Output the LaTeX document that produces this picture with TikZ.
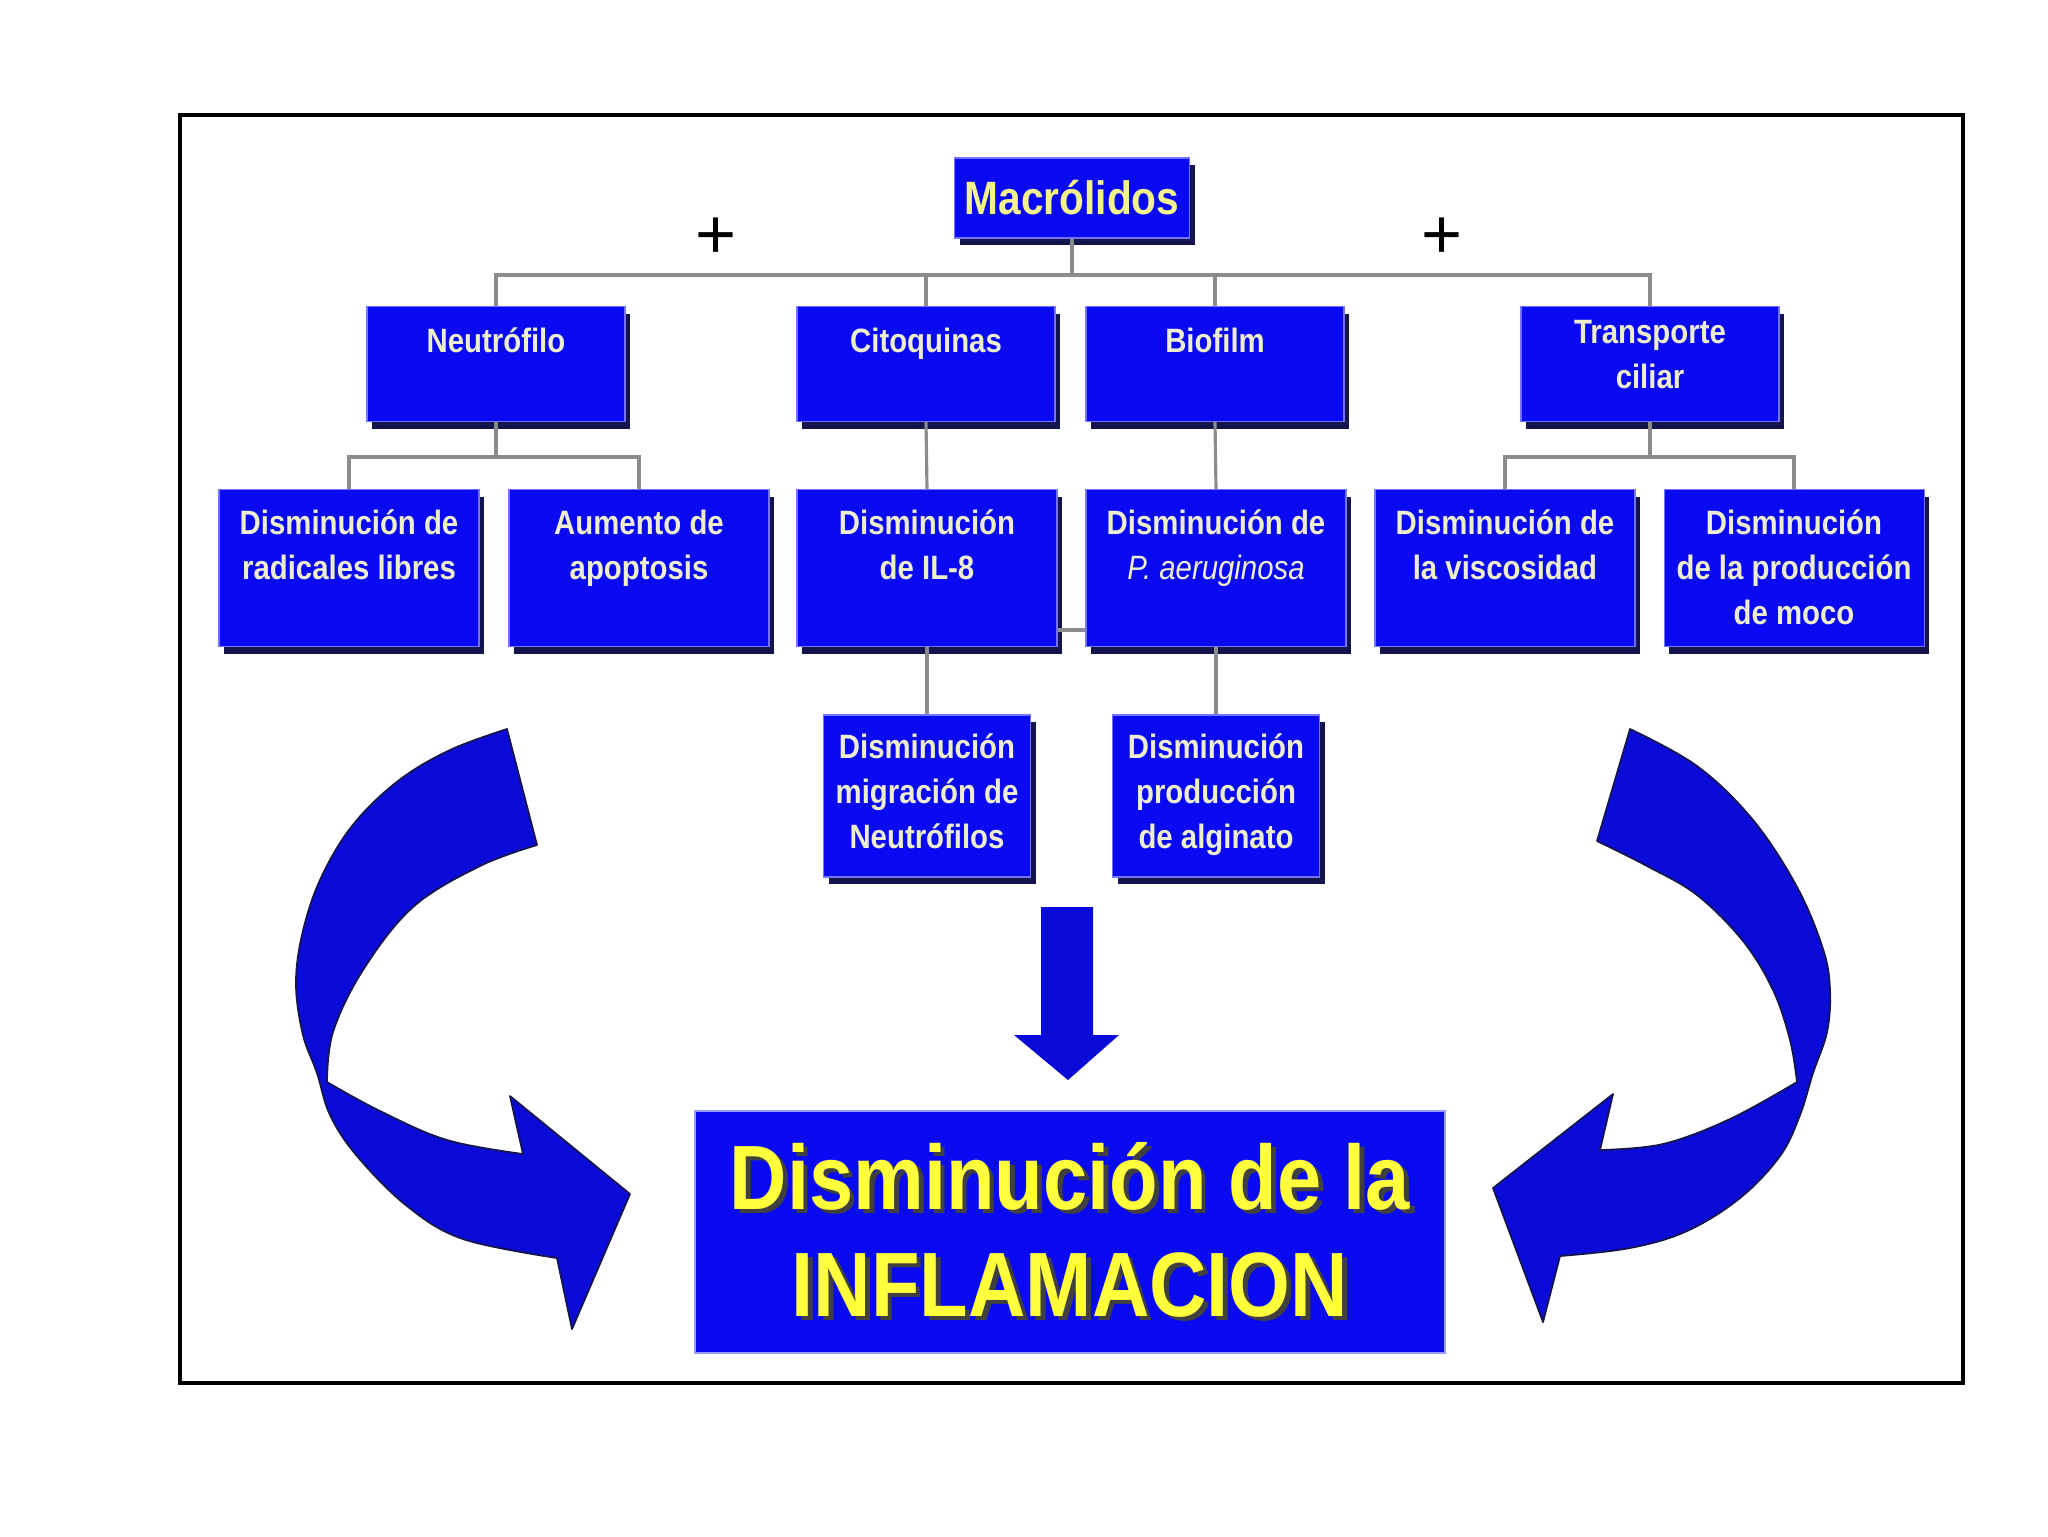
\documentclass[tikz,border=0pt]{standalone}
\usepackage{fontspec}
\setmainfont{Liberation Sans}
\newfontfamily\narrowSans[FakeStretch=0.87]{Liberation Sans}
\usepackage{xcolor}
\definecolor{boxBlue}{HTML}{0A0AF2}
\definecolor{arrowBlue}{HTML}{0B0BD9}
\definecolor{shadowNavy}{HTML}{15154D}
\definecolor{boxText}{HTML}{EDEDCF}
\definecolor{titleYellow}{HTML}{F2F28C}
\definecolor{bigYellow}{HTML}{FFFF3C}
\usepackage{tikz}
\usetikzlibrary{positioning,shadows}

% yellow text with a dark offset copy behind it
\newcommand\dropText[1]{\leavevmode\rlap{\kern1.3pt\raisebox{-1.3pt}{\textcolor{black!75}{#1}}}#1}

\tikzset{
  box/.style={fill=boxBlue, draw=blue!55!white, line width=0.3pt, inner sep=0pt,
    drop shadow={shadow xshift=0.5mm, shadow yshift=-0.7mm, fill=shadowNavy, opacity=1}},
  topBox/.style={box, minimum width=25.8mm, minimum height=11.5mm},
  midBox/.style={box, minimum width=26mm, minimum height=15.7mm},
  lowBox/.style={box, minimum width=20.7mm, minimum height=16.2mm},
  boxLabel/.style={text=boxText, align=center, inner sep=0pt,
    font=\narrowSans\bfseries\fontsize{9.6pt}{12.8pt}\selectfont, execute at begin node=\strut},
  conn/.style={black!45, line width=0.9pt},
  bigArrow/.style={fill=arrowBlue, draw=shadowNavy, line width=0.5pt, line join=round},
}

\begin{document}
\begin{tikzpicture}[x=0.1mm, y=-0.1mm]
  \useasboundingbox (0,0) rectangle (2048,1536);
  \draw[line width=1pt] (180,115) rectangle (1963,1383);   % frame

  % ---- top: Macrolidos and its four branches ----
  \node[box, minimum width=23.5mm, minimum height=8mm, text=titleYellow,
        font=\narrowSans\bfseries\fontsize{13.3pt}{15pt}\selectfont] (mac) at (1072,198) {Macrólidos};
  \node (plusL) at (716,238) {\fontsize{20pt}{20pt}\selectfont +};
  \node (plusR) at (1442,238) {\fontsize{20pt}{20pt}\selectfont +};

  \node[topBox] (neu) at (496,364) {};
  \node[topBox] (cit) at (926,364) {};
  \node[topBox] (bio) at (1215,364) {};
  \node[topBox] (tra) at (1650,364) {};
  \node[boxLabel, below=1.4mm of neu.north] {Neutrófilo};
  \node[boxLabel, below=1.4mm of cit.north] {Citoquinas};
  \node[boxLabel, below=1.4mm of bio.north] {Biofilm};
  \node[boxLabel, below=1.4mm of tra.north] {Transporte\\ciliar};

  \coordinate (busTop) at (1072,275);
  \draw[conn] (mac.south) -- (busTop);
  \foreach \n in {neu,cit,bio,tra}
    \draw[conn] (busTop) -| (\n.north);

  % ---- second row ----
  \node[midBox] (rad) at (349,568) {};
  \node[midBox] (apo) at (639,568) {};
  \node[midBox] (il8) at (927,568) {};
  \node[midBox] (pae) at (1216,568) {};
  \node[midBox] (vis) at (1505,568) {};
  \node[midBox] (moc) at (1794,568) {};
  \node[boxLabel, below=2mm of rad.north] {Disminución de\\radicales libres};
  \node[boxLabel, below=2mm of apo.north] {Aumento de\\apoptosis};
  \node[boxLabel, below=2mm of il8.north] {Disminución\\de IL-8};
  \node[boxLabel, below=2mm of pae.north] {Disminución de\\{\mdseries\itshape P. aeruginosa}};
  \node[boxLabel, below=2mm of vis.north] {Disminución de\\la viscosidad};
  \node[boxLabel, below=2mm of moc.north] {Disminución\\de la producción\\de moco};

  \draw[conn] (neu.south) -- ++(0,35) -| (rad.north);
  \draw[conn] (neu.south) -- ++(0,35) -| (apo.north);
  \draw[conn] (tra.south) -- ++(0,35) -| (vis.north);
  \draw[conn] (tra.south) -- ++(0,35) -| (moc.north);
  \draw[conn] (cit.south) -- (il8.north);
  \draw[conn] (bio.south) -- (pae.north);
  \draw[conn] ([yshift=-6.2mm]il8.east) -- ([yshift=-6.2mm]pae.west);

  % ---- third row ----
  \node[lowBox] (mig) at (927,796) {};
  \node[lowBox] (alg) at (1216,796) {};
  \node[boxLabel, below=1.9mm of mig.north] {Disminución\\migración de\\Neutrófilos};
  \node[boxLabel, below=1.9mm of alg.north] {Disminución\\producción\\de alginato};
  \draw[conn] (il8.south) -- (mig.north);
  \draw[conn] (pae.south) -- (alg.north);

  % ---- result ----
  \node[fill=boxBlue, draw=blue!40!white, line width=0.6pt, minimum width=75mm, minimum height=24.2mm,
        text=bigYellow, align=center, font=\narrowSans\bfseries\fontsize{26pt}{30.4pt}\selectfont]
        (infl) at (1070,1232) {\dropText{Disminución de la}\\\dropText{INFLAMACION}};

  % down arrow
  \fill[arrowBlue] (1041,907) -- (1093,907) -- (1093,1035) -- (1119,1035) -- (1068,1080)
    -- (1014,1035) -- (1041,1035) -- cycle;

  % left curved arrow
  \filldraw[bigArrow] (507,729) -- (537,845)
    -- plot[smooth, tension=0.6] coordinates {(537,845) (480,866) (413,907) (363,970) (333,1032) (327,1082)}
    -- plot[smooth, tension=0.6] coordinates {(327,1082) (380,1111) (447,1140) (523,1154)}
    -- (510,1096) -- (630,1194) -- (572,1329) -- (557,1258)
    -- plot[smooth, tension=0.6] coordinates {(557,1258) (463,1239) (407,1206) (357,1156) (330,1115)
         (317,1073) (303,1035) (296,985) (302,935) (320,880) (352,826) (398,781) (450,750) (507,729)}
    -- cycle;

  % right curved arrow
  \filldraw[bigArrow] (1630,729)
    -- plot[smooth, tension=0.6] coordinates {(1630,729) (1697,766) (1753,820) (1797,887) (1823,949)
         (1830,990) (1827,1032) (1813,1073) (1800,1115) (1780,1156) (1740,1198) (1687,1231) (1630,1248) (1560,1256)}
    -- (1543,1322) -- (1493,1188) -- (1613,1094) -- (1600,1150)
    -- plot[smooth, tension=0.6] coordinates {(1600,1150) (1663,1144) (1730,1119) (1797,1082)}
    -- plot[smooth, tension=0.6] coordinates {(1797,1082) (1790,1040) (1773,990) (1743,941) (1697,895)
         (1647,866) (1597,841)}
    -- cycle;
\end{tikzpicture}
\end{document}
